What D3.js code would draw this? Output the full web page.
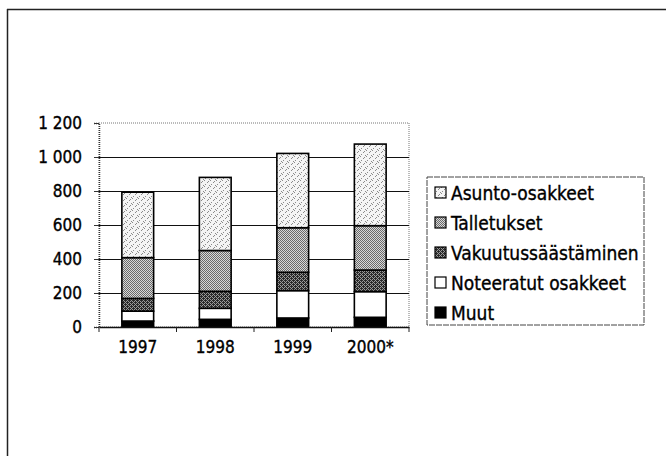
<!DOCTYPE html>
<html>
<head>
<meta charset="utf-8">
<script src="https://cdn.jsdelivr.net/npm/d3@7"></script>
<style>
  body { margin: 0; background: #fff; }
  svg text { font-family: "DejaVu Sans Condensed", "Liberation Sans Narrow", sans-serif; fill: #000; stroke: #000; stroke-width: 0.35px; }
</style>
</head>
<body>
<div id="chart"></div>
<script>
// data (billions)
let years = ["1997", "1998", "1999", "2000*"];
let seriesNames = ["Muut", "Noteeratut osakkeet", "Vakuutussäästäminen", "Talletukset", "Asunto-osakkeet"];
let muut = [35, 45, 53, 57];
let noteeratut = [58, 65, 161, 151];
let vakuutus = [75, 100, 108, 127];
let talletukset = [240, 240, 262, 261];
let asunto = [385, 430, 437, 480];
let yTicks = [0, 200, 400, 600, 800, 1000, 1200];
let yTickLabels = ["0", "200", "400", "600", "800", "1 000", "1 200"];

let width = 666, height = 456;
let margin = {left: 99, right: 257, top: 123, bottom: 129};

let svg = d3.select("#chart").append("svg")
  .attr("width", width)
  .attr("height", height);

// fill patterns (scanned print look)
let defs = svg.append("defs");
function dither(id, bg, fg, pts, size) {
  let p = defs.append("pattern")
    .attr("id", id)
    .attr("patternUnits", "userSpaceOnUse")
    .attr("width", size).attr("height", size);
  p.append("rect").attr("width", size).attr("height", size).attr("fill", bg);
  pts.forEach(function(q) {
    p.append("rect").attr("x", q[0]).attr("y", q[1]).attr("width", 1).attr("height", 1).attr("fill", fg);
  });
}
dither("pAsunto", "#f4f4f4", "#8a8a8a", [[0, 0], [3, 2], [1, 4], [5, 5], [4, 1]], 6);
dither("pTall", "#d8d8d8", "#6a6a6a", [[0, 0], [2, 0], [1, 1], [3, 1], [0, 2], [2, 2], [1, 3], [3, 3]], 4);
dither("pVak", "#9a9a9a", "#2a2a2a", [[0, 0], [1, 1], [2, 0], [3, 1], [0, 2], [2, 2], [1, 3], [3, 3], [1, 0], [3, 2]], 4);

let fills = {
  "Muut": "#000",
  "Noteeratut osakkeet": "#fff",
  "Vakuutussäästäminen": "url(#pVak)",
  "Talletukset": "url(#pTall)",
  "Asunto-osakkeet": "url(#pAsunto)"
};

// outer frame (only top and left edges show in the scan)
svg.append("line").attr("x1", 7).attr("x2", width).attr("y1", 9.5).attr("y2", 9.5)
  .attr("stroke", "#222").attr("stroke-width", 1.5);
svg.append("line").attr("x1", 7.5).attr("x2", 7.5).attr("y1", 9).attr("y2", height)
  .attr("stroke", "#222").attr("stroke-width", 1.5);

let x = d3.scaleBand()
  .domain(years)
  .range([margin.left, width - margin.right])
  .paddingInner(0.59)
  .paddingOuter(0.295);

let y = d3.scaleLinear()
  .domain([0, 1200])
  .range([height - margin.bottom, margin.top]);

// plot area border (dotted)
svg.append("rect")
  .attr("x", margin.left).attr("y", margin.top)
  .attr("width", width - margin.right - margin.left)
  .attr("height", y(0) - margin.top)
  .attr("fill", "none").attr("stroke", "#777")
  .attr("stroke-dasharray", "1,1");

// gridlines
svg.append("g")
  .selectAll("line")
  .data(yTicks.filter(d => d > 0 && d < 1200))
  .enter().append("line")
    .attr("x1", margin.left).attr("x2", width - margin.right)
    .attr("y1", d => y(d) + 0.5).attr("y2", d => y(d) + 0.5)
    .attr("stroke", "#111").attr("stroke-width", 1.2);

// stacked bars
let rows = years.map(function(yr, i) {
  return {year: yr, "Muut": muut[i], "Noteeratut osakkeet": noteeratut[i],
    "Vakuutussäästäminen": vakuutus[i], "Talletukset": talletukset[i], "Asunto-osakkeet": asunto[i]};
});
let stacked = d3.stack().keys(seriesNames)(rows);

svg.append("g")
  .selectAll("g")
  .data(stacked)
  .enter().append("g")
    .attr("fill", d => fills[d.key])
  .selectAll("rect")
  .data(d => d)
  .enter().append("rect")
    .attr("x", d => x(d.data.year))
    .attr("y", d => y(d[1]))
    .attr("width", x.bandwidth())
    .attr("height", d => y(d[0]) - y(d[1]))
    .attr("stroke", "#000")
    .attr("stroke-width", 1.6);

// y axis
let yAxis = svg.append("g")
  .attr("transform", "translate(" + margin.left + ",0)")
  .call(d3.axisLeft(y).tickValues(yTicks).tickSize(5).tickPadding(12)
    .tickFormat((d, i) => yTickLabels[i]));
yAxis.select(".domain").attr("stroke", "#333").attr("stroke-dasharray", "1,1").attr("stroke-width", 1.5);
yAxis.selectAll(".tick line").attr("stroke", "#333");
yAxis.selectAll("text").style("font-size", "17px");

// x axis
let xAxis = svg.append("g")
  .attr("transform", "translate(0," + y(0) + ")")
  .call(d3.axisBottom(x).tickSize(0).tickPadding(14));
xAxis.select(".domain").attr("stroke", "#111").attr("stroke-width", 1.5);
xAxis.selectAll("text").style("font-size", "17px");
// category boundary ticks
let step = x.step();
xAxis.selectAll(".cat-tick")
  .data(d3.range(years.length + 1))
  .enter().append("line")
    .attr("x1", i => margin.left + i * step).attr("x2", i => margin.left + i * step)
    .attr("y1", 0).attr("y2", 5)
    .attr("stroke", "#222");

// legend
let legend = svg.append("g").attr("transform", "translate(427,177)");
legend.append("rect")
  .attr("width", 217).attr("height", 148)
  .attr("fill", "#fff").attr("stroke", "#444").attr("stroke-dasharray", "6,1");
let legendOrder = seriesNames.slice().reverse();
let items = legend.selectAll(".item")
  .data(legendOrder)
  .enter().append("g")
    .attr("transform", (d, i) => "translate(8," + (16 + i * 30) + ")");
items.append("rect")
  .attr("x", 0).attr("y", -6).attr("width", 11).attr("height", 11)
  .attr("fill", d => fills[d]).attr("stroke", "#000").attr("stroke-width", 1.2);
items.append("text")
  .attr("x", 16).attr("y", 7)
  .style("font-size", "19px")
  .text(d => d);
</script>
</body>
</html>
